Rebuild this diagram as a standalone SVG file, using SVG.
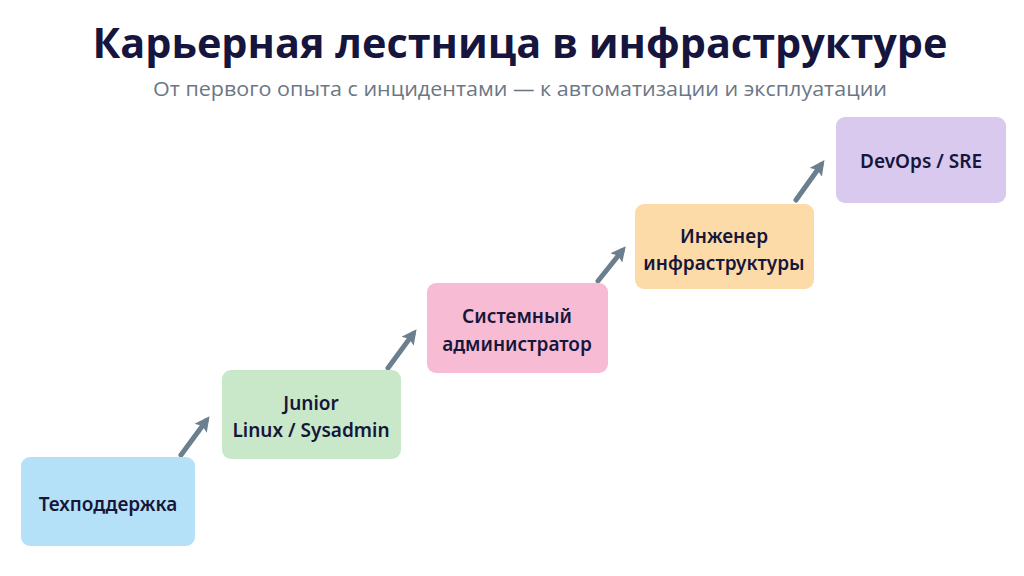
<svg xmlns="http://www.w3.org/2000/svg" width="1024" height="576" viewBox="0 0 1024 576">
<defs>
<style>
.title{font-family:"Open Sans","Noto Sans",sans-serif;font-weight:700;font-size:42px;fill:#15153d;text-anchor:middle}
.sub{font-family:"Open Sans","Noto Sans",sans-serif;font-size:20px;fill:#6b7785;text-anchor:middle}
.lbl{font-family:"Noto Sans","Open Sans",sans-serif;font-weight:600;font-size:19px;fill:#16163a;text-anchor:middle}
.conn{stroke:#6b7f8e;stroke-width:5;stroke-linecap:round;fill:none;marker-end:url(#ah)}
</style>
<marker id="ah" viewBox="0 0 10 10" refX="6" refY="5" markerWidth="3" markerHeight="3" orient="auto" markerUnits="strokeWidth">
<path d="M0,0 L10,5 L0,10 L2,5 z" fill="#6b7f8e"/>
</marker>
</defs>
<rect width="1024" height="576" fill="#ffffff"/>
<text class="title" x="520" y="58" textLength="855" lengthAdjust="spacingAndGlyphs">Карьерная лестница в инфраструктуре</text>
<text class="sub" x="520" y="96" textLength="734" lengthAdjust="spacingAndGlyphs">От первого опыта с инцидентами — к автоматизации и эксплуатации</text>
<g id="connectors">
<line class="conn" x1="181" y1="455" x2="206" y2="421"/>
<line class="conn" x1="388" y1="368" x2="413" y2="334"/>
<line class="conn" x1="598" y1="281" x2="622" y2="251"/>
<line class="conn" x1="796" y1="200" x2="821" y2="165"/>
</g>
<g id="n1"><rect x="21" y="457" width="174" height="89" rx="9" fill="#b5e1f8"/><text class="lbl" x="108" y="511">Техподдержка</text></g>
<g id="n2"><rect x="222" y="370" width="179" height="89" rx="9" fill="#c9e8c9"/><text class="lbl" x="311" y="410">Junior</text><text class="lbl" x="311" y="437">Linux / Sysadmin</text></g>
<g id="n3"><rect x="427" y="283" width="181" height="90" rx="9" fill="#f7bcd4"/><text class="lbl" x="517" y="323">Системный</text><text class="lbl" x="517" y="351">администратор</text></g>
<g id="n4"><rect x="635" y="204" width="179" height="85" rx="9" fill="#fcdba8"/><text class="lbl" x="724" y="243">Инженер</text><text class="lbl" x="724" y="270">инфраструктуры</text></g>
<g id="n5"><rect x="836" y="117" width="170" height="86" rx="9" fill="#d9c9ef"/><text class="lbl" x="921" y="168">DevOps / SRE</text></g>
</svg>
